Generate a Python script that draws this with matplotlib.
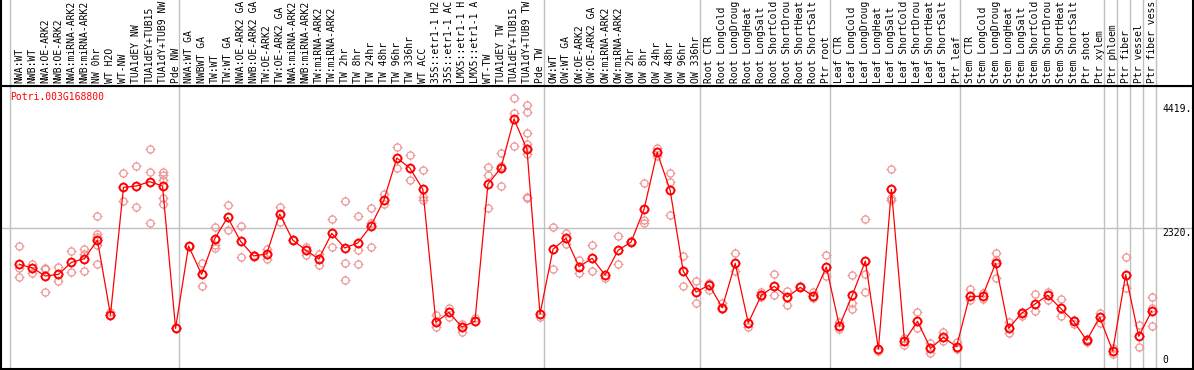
#!/usr/bin/env python3
"""
Expression profile for Potri.003G168800 across poplar samples
"""

import numpy as np
import matplotlib
matplotlib.use('Agg')  # Non-interactive backend
import matplotlib.pyplot as plt
from matplotlib.path import Path
from matplotlib.markers import MarkerStyle

gene_name = 'Potri.003G168800'

# sample labels as they show in the header (long ones are cut short there)
sample_labels = [
    # NW group
    'NWA:WT', 'NWB:WT', 'NWA:OE-ARK2', 'NWB:OE-ARK2', 'NWA:miRNA-ARK2',
    'NWB:miRNA-ARK2', 'NW 0hr', 'WT H2O', 'WT-NW', 'TUA1dEY NW',
    'TUA1dEY+TUB15', 'TUA1dY+TUB9 NW', 'Pde NW',
    # TW group
    'NWA:WT GA', 'NWBWT GA', 'TW:WT', 'TW:WT GA', 'NWA:OE-ARK2 GA',
    'NWB:OE-ARK2 GA', 'TW:OE-ARK2', 'TW:OE-ARK2 GA', 'NWA:miRNA-ARK2',
    'NWB:miRNA-ARK2', 'TW:miRNA-ARK2', 'TW:miRNA-ARK2', 'TW 2hr', 'TW 8hr',
    'TW 24hr', 'TW 48hr', 'TW 96hr', 'TW 336hr', 'WT ACC', '35S::etr1-1 H2',
    '35S::etr1-1 AC', 'LMX5::etr1-1 H', 'LMX5::etr1-1 A', 'WT-TW',
    'TUA1dEY TW', 'TUA1dEY+TUB15', 'TUA1dY+TUB9 TW', 'Pde TW',
    # OW group
    'OW:WT', 'OW:WT GA', 'OW:OE-ARK2', 'OW:OE-ARK2 GA', 'OW:miRNA-ARK2',
    'OW:miRNA-ARK2', 'OW 2hr', 'OW 8hr', 'OW 24hr', 'OW 48hr', 'OW 96hr',
    'OW 336hr',
    # root
    'Root CTR', 'Root LongCold', 'Root LongDroug', 'Root LongHeat',
    'Root LongSalt', 'Root ShortCold', 'Root ShortDrou', 'Root ShortHeat',
    'Root ShortSalt', 'Ptr root',
    # leaf
    'Leaf CTR', 'Leaf LongCold', 'Leaf LongDroug', 'Leaf LongHeat',
    'Leaf LongSalt', 'Leaf ShortCold', 'Leaf ShortDrou', 'Leaf ShortHeat',
    'Leaf ShortSalt', 'Ptr leaf',
    # stem
    'Stem CTR', 'Stem LongCold', 'Stem LongDroug', 'Stem LongHeat',
    'Stem LongSalt', 'Stem ShortCold', 'Stem ShortDrou', 'Stem ShortHeat',
    'Stem ShortSalt', 'Ptr shoot', 'Ptr xylem',
    # single tissues
    'Ptr phloem', 'Ptr fiber', 'Ptr vessel', 'Ptr fiber vess',
]

# number of samples in each block separated by a grey line
group_sizes = [13, 28, 12, 10, 10, 11, 1, 1, 1, 1]

# mean expression per sample
mean_values = [
    1711, 1649, 1513, 1541, 1744, 1807, 2122, 853, 3014, 3037, 3110, 3037, 627,
    2021, 1541, 2139, 2506, 2100, 1852, 1886, 2563, 2122, 1953, 1801, 2235,
    1987, 2072, 2359, 2794, 3510, 3341, 2980, 729, 898, 650, 746, 3070, 3341,
    4171, 3657, 870,
    1965, 2151, 1671, 1812, 1530, 1948, 2089, 2647, 3606, 2963, 1598, 1242,
    1361, 977, 1728, 718, 1186, 1338, 1158, 1321, 1169, 1666,
    667, 1192, 1767, 272, 2980, 413, 746, 289, 475, 317,
    1169, 1169, 1728, 627, 881, 1034, 1186, 966, 746, 424, 814,
    244, 1536, 492, 921,
]

# individual replicate values per sample
replicate_values = [
    [2015, 1643, 1496], [1722, 1570], [1649, 1626, 1237], [1666, 1434],
    [1931, 1581], [1976, 1880, 1592], [2529, 2218, 2179, 2038, 1711],
    [909, 853], [3262, 2783], [3375, 2675], [3663, 3268, 2410],
    [3279, 3223, 3138, 2828, 2726], [639],
    [2021], [1739, 1344], [2337, 2038, 1981], [2709, 2286], [2354, 1829],
    [1869], [1976, 1795], [2681, 2422], [2122], [2010, 1874], [1891, 1699],
    [2472, 1998], [2783, 1728, 1445], [2529, 1959, 1711], [2658, 2410, 1998],
    [2901, 2737], [3697, 3341], [3561, 3132], [3302, 2856, 2800], [853, 644],
    [966, 819], [695, 565], [797], [3358, 3223, 2658], [3595, 3375, 3031],
    [4520, 4272, 3708], [4408, 4283, 3928, 3742, 3572, 2856, 2828], [825],
    [2337, 1632], [2241, 2060], [1784, 1558], [2032, 1592], [1485],
    [2185, 1711], [2111], [3087, 2461, 2405], [3674, 3550], [3251, 3110, 2546],
    [1846, 1344], [1429, 1051],
    [1400, 1282], [1051, 949], [1902, 1598], [644], [1248, 1152], [1541, 1186],
    [1259, 1017], [1350], [1248, 1135], [1863, 1508],
    [729, 622], [1524, 1051, 949], [2472, 1553, 1237], [249], [3319, 2828, 2800],
    [458, 345], [898, 627], [373, 216], [560, 413], [402, 272],
    [1288, 1107], [1225, 1130], [1902, 1784, 1485], [735, 543], [898, 842],
    [1203, 921], [1237, 1107], [1118, 842], [768, 706], [447, 402], [893, 712],
    [289, 199], [1829, 1304], [684, 311], [1152, 966, 661],
]

# values printed on the right side
axis_marks = [4419, 2320, 0]

FONT = 'DejaVu Sans Mono'
RED = '#ff0000'
PINK = '#f09494'
GRID = '#c0c0c0'

# circle with four small ticks around it
tick_path = Path(
    [(0, 0.72), (0, 1), (0, -0.72), (0, -1), (0.72, 0), (1, 0), (-0.72, 0), (-1, 0)],
    [Path.MOVETO, Path.LINETO] * 4)
tick_marker = MarkerStyle(tick_path)

W, H = 1194, 370
fig = plt.figure(figsize=(W / 100, H / 100), dpi=100)

x = np.arange(len(sample_labels))
xlim = (-1.41, 90.17)
group_edges = np.concatenate([[0], np.cumsum(group_sizes)]) - 0.7

# main plot area
ax = fig.add_axes([1 / W, 1 / H, 1192 / W, 283 / H])
ax.set_xlim(xlim)
ax.set_ylim(-61, 4729)
ax.set_xticks([])
ax.set_yticks([])
for s in ax.spines.values():
    s.set_color('black')
    s.set_linewidth(1.5)

for e in group_edges:
    ax.axvline(e, color=GRID, lw=1.0, zorder=1)
ax.axhline(axis_marks[1], color=GRID, lw=1.0, zorder=1)

# replicates
rx = [i for i, reps in enumerate(replicate_values) for _ in reps]
ry = [v for reps in replicate_values for v in reps]
ax.plot(rx, ry, 'o', ms=5.2, mfc='none', mec=PINK, mew=0.9, zorder=2)
ax.plot(rx, ry, ls='none', marker=tick_marker, ms=7.0, mec=PINK, mew=0.8, zorder=2)

# means
ax.plot(x, mean_values, color=RED, lw=0.9, zorder=3)
ax.plot(x, mean_values, 'o', ms=5.6, mfc='none', mec=RED, mew=1.4, zorder=4)
ax.plot(x, mean_values, ls='none', marker=tick_marker, ms=7.6, mec=RED, mew=1.0, zorder=4)

# right side value marks
for v in axis_marks[:2]:
    ax.text(0.9745, v, f'{v}.', transform=ax.get_yaxis_transform(),
            ha='left', va='top', fontsize=7, family=FONT, color='black')
ax.text(0.9745, axis_marks[2], f'{axis_marks[2]}', transform=ax.get_yaxis_transform(),
        ha='left', va='bottom', fontsize=7, family=FONT, color='black')

ax.text(9.5 / 1192, 1 - 11 / 283, gene_name, transform=ax.transAxes,
        ha='left', va='center', fontsize=7, family=FONT, color=RED)

# header with rotated sample names
hx = fig.add_axes([1 / W, 284 / H, 1192 / W, 86 / H])
hx.set_xlim(xlim)
hx.set_ylim(0, 1)
hx.set_xticks([])
hx.set_yticks([])
hx.spines['top'].set_visible(False)
for side in ['left', 'right', 'bottom']:
    hx.spines[side].set_color('black')
    hx.spines[side].set_linewidth(1.5)
for e in group_edges:
    hx.axvline(e, color=GRID, lw=1.0, zorder=1)
for i, lab in enumerate(sample_labels):
    hx.text(i, 3 / 86, lab, rotation=90, ha='center', va='bottom',
            fontsize=7, family=FONT, color='black', clip_on=False)

plt.savefig('out.png', dpi=100, facecolor='white')
plt.close()
